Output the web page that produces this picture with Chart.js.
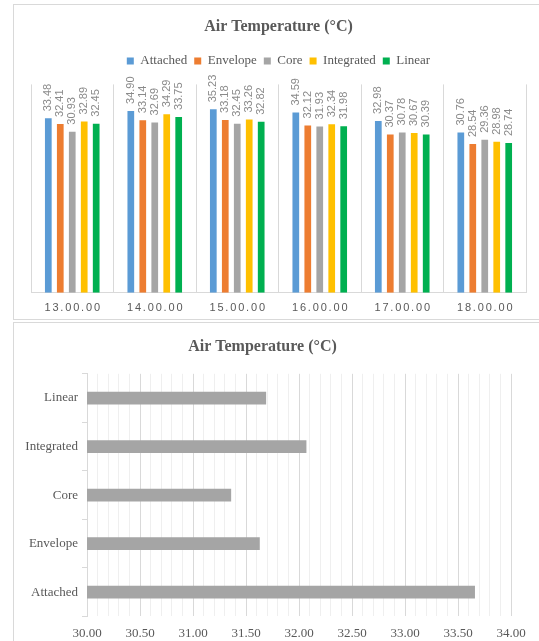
<!DOCTYPE html>
<html>
<head>
<meta charset="utf-8">
<script src="https://cdn.jsdelivr.net/npm/chart.js@4.4.1/dist/chart.umd.min.js"></script>
<style>
  html, body { margin:0; padding:0; background:#fff; overflow:hidden; width:539px; height:641px; }
  .box { position:absolute; border:1px solid #d9d9d9; box-sizing:border-box; }
  canvas { position:absolute; left:0; }
</style>
</head>
<body>
<div class="box" style="left:13px; top:4px; width:540px; height:316px;"></div>
<div class="box" style="left:13px; top:322px; width:540px; height:330px;"></div>
<canvas id="c1" width="539" height="324" style="top:0;"></canvas>
<canvas id="c2" width="539" height="330" style="top:320px;"></canvas>
<script>
// ---- data ----
const categories = ['13.00.00', '14.00.00', '15.00.00', '16.00.00', '17.00.00', '18.00.00'];
const seriesNames = ['Attached', 'Envelope', 'Core', 'Integrated', 'Linear'];
const attached   = [33.48, 34.90, 35.23, 34.59, 32.98, 30.76];
const envelope   = [32.41, 33.14, 33.18, 32.12, 30.37, 28.54];
const core       = [30.93, 32.69, 32.45, 31.93, 30.78, 29.36];
const integrated = [32.89, 34.29, 33.26, 32.34, 30.67, 28.98];
const linear     = [32.45, 33.75, 32.82, 31.98, 30.39, 28.74];
const avgCategories = ['Attached', 'Envelope', 'Core', 'Integrated', 'Linear'];
const avgValues = [33.66, 31.63, 31.36, 32.07, 31.69];
const avgTickLabels = ['30.00', '30.50', '31.00', '31.50', '32.00', '32.50', '33.00', '33.50', '34.00'];

const titleText = 'Air Temperature (°C)';
const seriesColors = ['#5b9bd5', '#ed7d31', '#a5a5a5', '#ffc000', '#00b050'];
const seriesData = [attached, envelope, core, integrated, linear];

const SERIF = '"Liberation Serif", "Times New Roman", serif';
const SANS = '"Liberation Sans", Arial, sans-serif';

// ---- chart 1 ----
const dataLabels = {
  id: 'dataLabels',
  afterDatasetsDraw(chart) {
    const ctx = chart.ctx;
    ctx.save();
    ctx.font = '11px ' + SANS;
    ctx.fillStyle = '#8a8a8a';
    ctx.textAlign = 'left';
    ctx.textBaseline = 'middle';
    chart.data.datasets.forEach((ds, di) => {
      const meta = chart.getDatasetMeta(di);
      meta.data.forEach((bar, i) => {
        ctx.save();
        ctx.translate(bar.x, bar.y - 7);
        ctx.rotate(-Math.PI / 2);
        ctx.fillText(ds.data[i].toFixed(2), 0, 0);
        ctx.restore();
      });
    });
    ctx.restore();
  }
};
const shiftLegend = {
  id: 'shiftLegend',
  afterLayout(chart) {
    const lg = chart.legend;
    if (lg) { lg.top -= 7; lg.bottom -= 7; }
  }
};

new Chart(document.getElementById('c1'), {
  type: 'bar',
  data: {
    labels: categories,
    datasets: seriesNames.map((n, i) => ({
      label: n,
      data: seriesData[i],
      backgroundColor: seriesColors[i],
      borderWidth: 0,
      categoryPercentage: 0.7255,
      barPercentage: 0.56
    }))
  },
  options: {
    responsive: false,
    animation: false,
    devicePixelRatio: 1,
    layout: { padding: { top: 17, left: 31, right: 13, bottom: 0 } },
    plugins: {
      title: {
        display: true, text: titleText, color: '#595959',
        font: { family: SERIF, size: 16, weight: 'bold' },
        padding: { top: 0, bottom: 18.2 }
      },
      legend: {
        display: true,
        labels: {
          color: '#595959', boxWidth: 7, boxHeight: 7, padding: 7,
          font: { family: SERIF, size: 13 }
        }
      },
      tooltip: { enabled: false }
    },
    scales: {
      x: {
        grid: { display: true, color: '#d9d9d9', drawTicks: false, offset: true },
        border: { display: true, color: '#d9d9d9' },
        ticks: {
          color: '#595959', padding: 9,
          font: { family: SANS, size: 11 },
          callback: (v, i) => categories[i].split('').join('\u2006')
        }
      },
      y: { display: false, min: 0, max: 40 }
    }
  },
  plugins: [dataLabels, shiftLegend]
});

// ---- chart 2 ----
new Chart(document.getElementById('c2'), {
  type: 'bar',
  data: {
    labels: avgCategories,
    datasets: [{
      label: titleText,
      data: avgValues,
      backgroundColor: '#a5a5a5',
      borderWidth: 0,
      categoryPercentage: 1,
      barPercentage: 0.263
    }]
  },
  options: {
    indexAxis: 'y',
    responsive: false,
    animation: false,
    devicePixelRatio: 1,
    layout: { padding: { top: 17, left: 14, right: 28, bottom: 0 } },
    plugins: {
      title: {
        display: true, text: titleText, color: '#595959',
        font: { family: SERIF, size: 16, weight: 'bold' },
        padding: { top: 0, bottom: 17.6 }
      },
      legend: { display: false },
      tooltip: { enabled: false }
    },
    scales: {
      x: {
        min: 30, max: 34,
        grid: {
          drawTicks: false,
          color: (c) => {
            const v = c.tick ? c.tick.value : 0;
            return Math.abs(v * 2 - Math.round(v * 2)) < 1e-6 ? '#d9d9d9' : '#efefef';
          }
        },
        border: { display: false },
        ticks: {
          stepSize: 0.1, autoSkip: false, maxRotation: 0, padding: 9,
          color: '#595959', font: { family: SERIF, size: 13 },
          callback: (v) => {
            const k = Math.round((v - 30) * 10);
            return k % 5 === 0 ? avgTickLabels[k / 5] : '';
          }
        }
      },
      y: {
        reverse: true,
        grid: { drawOnChartArea: false, drawTicks: true, tickLength: 5, offset: true, color: '#d9d9d9' },
        border: { display: true, color: '#d9d9d9' },
        ticks: { color: '#595959', padding: 4, font: { family: SERIF, size: 13 } },
        afterFit: (s) => { s.width = 73; }
      }
    }
  }
});
</script>
</body>
</html>
